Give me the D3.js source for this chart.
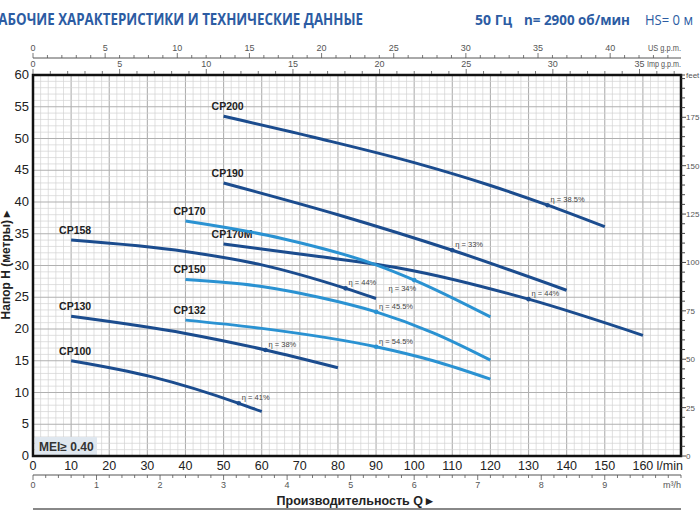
<!DOCTYPE html>
<html>
<head>
<meta charset="utf-8">
<script src="https://cdn.jsdelivr.net/npm/d3@7"></script>
<style>
  body { margin: 0; background: #fff; }
  svg { display: block; }
  text { font-family: "Liberation Sans Narrow", "Liberation Sans", Arial, sans-serif; }
</style>
</head>
<body>
<script>
// curves: [Q l/min, H m]
var cp200 = [[50, 53.5], [75, 50.0], [100, 46.2], [120, 42.6], [135, 39.5], [150, 36.1]];
var cp190 = [[50, 43.0], [80, 38.0], [110, 32.4], [140, 26.1]];
var cp170m = [[50, 33.4], [75, 31.4], [97, 29.5], [130, 24.7], [160, 19.0]];
var cp170 = [[40, 37.0], [65, 34.3], [90, 30.1], [100, 27.7], [120, 21.9]];
var cp158 = [[10, 34.0], [40, 32.2], [60, 30.1], [82, 26.4], [90, 24.8]];
var cp150 = [[40, 27.8], [60, 26.7], [75, 25.0], [90, 22.7], [105, 19.4], [120, 15.1]];
var cp132 = [[40, 21.4], [60, 20.1], [90, 17.2], [105, 15.0], [120, 12.1]];
var cp130 = [[10, 22.0], [40, 19.3], [61, 16.7], [80, 13.9]];
var cp100 = [[10, 15.0], [31, 12.5], [54, 8.3], [60, 7.0]];

var names = ["CP200", "CP190", "CP170M", "CP170", "CP158", "CP150", "CP132", "CP130", "CP100"];
var series = [cp200, cp190, cp170m, cp170, cp158, cp150, cp132, cp130, cp100];
var light = ["CP170", "CP150", "CP132"];

// efficiency points: Q where marked, eta text
var etaQ = [135, 110, 130, 100, 82, 90, 90, 61, 54];
var etaText = ["38.5%", "33%", "44%", "34%", "44%", "45.5%", "54.5%", "38%", "41%"];

var qTicks = [0, 10, 20, 30, 40, 50, 60, 70, 80, 90, 100, 110, 120, 130, 140, 150, 160];
var hTicks = [0, 5, 10, 15, 20, 25, 30, 35, 40, 45, 50, 55, 60];
var feetTicks = [0, 25, 50, 75, 100, 125, 150, 175];
var usTicks = [0, 5, 10, 15, 20, 25, 30, 35, 40];
var impTicks = [0, 5, 10, 15, 20, 25, 30, 35];
var m3Ticks = [0, 1, 2, 3, 4, 5, 6, 7, 8, 9];

var w = 700, h = 525;
var pL = 33, pR = 681, pT = 75, pB = 456;
var dark = "#1b4c8e", lightBlue = "#2a92d2", titleBlue = "#2c5ca3";

var svg = d3.select("body").append("svg")
            .attr("width", w)
            .attr("height", h);

var x = d3.scaleLinear().domain([0, 170]).range([pL, pR]);
var y = d3.scaleLinear().domain([0, 60]).range([pB, pT]);
var yFeet = d3.scaleLinear().domain([0, 60 * 3.28084]).range([pB, pT]);
var xUs = d3.scaleLinear().domain([0, 170 / 3.78541]).range([pL, pR]);
var xImp = d3.scaleLinear().domain([0, 170 / 4.54609]).range([pL, pR]);
var xM3 = d3.scaleLinear().domain([0, 170 * 0.06]).range([pL, pR]);

// grid
var grid = svg.append("g");
grid.selectAll("line.v")
    .data(d3.range(0, 171, 2))
    .enter().append("line")
    .attr("class", "v")
    .attr("x1", d => x(d)).attr("x2", d => x(d))
    .attr("y1", pT).attr("y2", pB)
    .attr("stroke", d => d % 10 == 0 ? "#b0b0b0" : "#d2d2d2")
    .attr("stroke-width", d => d % 10 == 0 ? 1.1 : 0.7);
grid.selectAll("line.h")
    .data(d3.range(0, 61, 1))
    .enter().append("line")
    .attr("class", "h")
    .attr("x1", pL).attr("x2", pR)
    .attr("y1", d => y(d)).attr("y2", d => y(d))
    .attr("stroke", d => d % 5 == 0 ? "#b0b0b0" : "#d2d2d2")
    .attr("stroke-width", d => d % 5 == 0 ? 1.1 : 0.7);

// MEI box
svg.append("rect")
    .attr("x", pL + 2).attr("y", 437)
    .attr("width", 62).attr("height", 18)
    .attr("fill", "#dfe7ef");
svg.append("text")
    .attr("x", pL + 6).attr("y", 451)
    .attr("font-size", 12).attr("font-weight", "bold")
    .attr("fill", "#333")
    .style("font-family", "'Liberation Sans', Arial, sans-serif")
    .text("MEI\u2265 0.40");

// curves
var line = d3.line()
             .x(d => x(d[0]))
             .y(d => y(d[1]))
             .curve(d3.curveMonotoneX);

var curves = svg.append("g");
series.forEach(function(s, i) {
    var col = light.indexOf(names[i]) >= 0 ? lightBlue : dark;
    curves.append("path")
          .attr("d", line(s))
          .attr("fill", "none")
          .attr("stroke", col)
          .attr("stroke-width", 3);

    curves.append("text")
          .attr("x", x(s[0][0]) - 12)
          .attr("y", y(s[0][1]) - 6)
          .attr("font-size", 10.5).attr("font-weight", "bold")
          .attr("fill", "#222")
          .text(names[i]);

    var p = s.filter(d => d[0] == etaQ[i])[0];
    curves.append("circle")
          .attr("cx", x(p[0])).attr("cy", y(p[1]))
          .attr("r", 2.3)
          .attr("fill", col);
    var below = names[i] == "CP170";
    curves.append("text")
          .attr("x", below ? x(p[0]) + 2 : x(p[0]) + 3)
          .attr("y", below ? y(p[1]) + 11 : y(p[1]) - 3)
          .attr("text-anchor", below ? "end" : "start")
          .attr("font-size", 7.5)
          .attr("fill", "#444")
          .text("\u03b7 = " + etaText[i]);
});

// plot frame
svg.append("rect")
    .attr("x", pL).attr("y", pT)
    .attr("width", pR - pL).attr("height", pB - pT)
    .attr("fill", "none")
    .attr("stroke", "#111")
    .attr("stroke-width", 2.5);

// left axis labels
svg.append("g").selectAll("text")
    .data(hTicks).enter().append("text")
    .attr("x", pL - 4).attr("y", d => y(d) + 4)
    .attr("text-anchor", "end")
    .attr("font-size", 13)
    .attr("fill", "#222")
    .text(d => d);

// bottom l/min labels
svg.append("g").selectAll("text")
    .data(qTicks).enter().append("text")
    .attr("x", d => x(d)).attr("y", pB + 14)
    .attr("text-anchor", "middle")
    .attr("font-size", 12.5)
    .attr("fill", "#222")
    .text(d => d);
svg.append("text")
    .attr("x", pR + 2).attr("y", pB + 14)
    .attr("text-anchor", "end")
    .attr("font-size", 12.5)
    .attr("fill", "#222")
    .text("l/min");

// small axis helper: ticks every step, labels at major values
function smallAxis(scale, maxVal, step, dir, base, labels) {
    var g = svg.append("g");
    g.selectAll("line")
     .data(d3.range(0, maxVal + 0.0001, step))
     .enter().append("line")
     .attr("x1", d => scale(d)).attr("x2", d => scale(d))
     .attr("y1", base)
     .attr("y2", function(d) {
         var major = labels.some(l => Math.abs(l - d) < 1e-6);
         return base + dir * (major ? 5 : 3);
     })
     .attr("stroke", "#555").attr("stroke-width", 0.8);
    g.selectAll("text")
     .data(labels).enter().append("text")
     .attr("x", d => scale(d))
     .attr("y", dir < 0 ? base - 7 : base + 13)
     .attr("text-anchor", "middle")
     .attr("font-size", 9)
     .attr("fill", "#555")
     .text(d => d);
    return g;
}

// US g.p.m.
svg.append("line")
    .attr("x1", pL).attr("x2", pR)
    .attr("y1", 58).attr("y2", 58)
    .attr("stroke", "#555").attr("stroke-width", 1);
smallAxis(xUs, 44, 1, -1, 58, usTicks);
svg.append("text")
    .attr("x", pR - 33).attr("y", 51)
    .attr("textLength", 33).attr("lengthAdjust", "spacingAndGlyphs")
    .attr("font-size", 9).attr("fill", "#555")
    .text("US g.p.m.");

// Imp g.p.m.
smallAxis(xImp, 37, 1, -1, pT - 1, impTicks);
svg.append("text")
    .attr("x", pR - 34).attr("y", pT - 8)
    .attr("textLength", 34).attr("lengthAdjust", "spacingAndGlyphs")
    .attr("font-size", 9).attr("fill", "#555")
    .text("Imp g.p.m.");

// m3/h
svg.append("line")
    .attr("x1", pL).attr("x2", pR)
    .attr("y1", 475).attr("y2", 475)
    .attr("stroke", "#555").attr("stroke-width", 1);
smallAxis(xM3, 10.2, 0.2, 1, 475, m3Ticks);
svg.append("text")
    .attr("x", pR).attr("y", 488)
    .attr("text-anchor", "end")
    .attr("font-size", 9).attr("fill", "#555")
    .text("m\u00b3/h");

// right feet axis
var fg = svg.append("g");
fg.selectAll("line")
  .data(d3.range(0, 196, 5)).enter().append("line")
  .attr("x1", pR).attr("x2", d => pR + (d % 25 == 0 ? 5 : 4))
  .attr("y1", d => yFeet(d)).attr("y2", d => yFeet(d))
  .attr("stroke", "#333").attr("stroke-width", 0.9);
fg.append("line")
  .attr("x1", pR).attr("x2", pR + 4)
  .attr("y1", pT).attr("y2", pT)
  .attr("stroke", "#333").attr("stroke-width", 0.9);
fg.selectAll("text")
  .data(feetTicks).enter().append("text")
  .attr("x", pR + 5).attr("y", d => yFeet(d) + 3)
  .attr("font-size", 8).attr("fill", "#555")
  .text(d => d);
fg.append("text")
  .attr("x", pR + 5).attr("y", pT + 3)
  .attr("font-size", 8).attr("fill", "#555")
  .text("feet");

// axis titles
svg.append("text")
    .attr("transform", "translate(10,265) rotate(-90)")
    .attr("text-anchor", "middle")
    .attr("font-size", 12).attr("font-weight", "bold")
    .attr("fill", "#222")
    .style("font-family", "'Liberation Sans', Arial, sans-serif")
    .text("Напор H (метры) \u25b8");

svg.append("text")
    .attr("x", 355).attr("y", 505)
    .attr("text-anchor", "middle")
    .attr("font-size", 12.5).attr("font-weight", "bold")
    .attr("fill", "#222")
    .style("font-family", "'Liberation Sans', Arial, sans-serif")
    .text("Производительность Q  \u25b8");

svg.append("line")
    .attr("x1", pL).attr("x2", pR)
    .attr("y1", 509).attr("y2", 509)
    .attr("stroke", "#888").attr("stroke-width", 1.8);

// header
svg.append("text")
    .attr("x", -10).attr("y", 25)
    .attr("textLength", 373).attr("lengthAdjust", "spacingAndGlyphs")
    .attr("font-size", 15.5).attr("font-weight", "bold")
    .attr("fill", titleBlue)
    .style("font-family", "'Open Sans', sans-serif")
    .text("РАБОЧИЕ ХАРАКТЕРИСТИКИ И ТЕХНИЧЕСКИЕ ДАННЫЕ");

svg.append("text")
    .attr("x", 475).attr("y", 25)
    .attr("font-size", 14).attr("font-weight", "bold")
    .attr("fill", titleBlue)
    .style("font-family", "'Open Sans', sans-serif")
    .text("50 Гц");
svg.append("text")
    .attr("x", 524).attr("y", 25)
    .attr("textLength", 106).attr("lengthAdjust", "spacingAndGlyphs")
    .attr("font-size", 14).attr("font-weight", "bold")
    .attr("fill", titleBlue)
    .style("font-family", "'Open Sans', sans-serif")
    .text("n= 2900 об/мин");
svg.append("text")
    .attr("x", 645).attr("y", 25)
    .attr("textLength", 48).attr("lengthAdjust", "spacingAndGlyphs")
    .attr("font-size", 14)
    .attr("fill", titleBlue)
    .style("font-family", "'Open Sans', sans-serif")
    .text("HS= 0 м");
</script>
</body>
</html>
